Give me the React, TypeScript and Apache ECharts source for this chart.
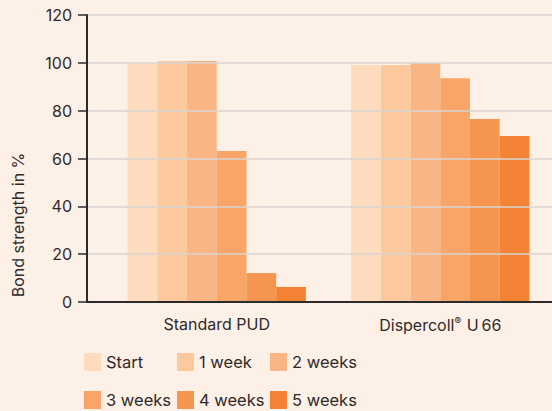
import React, { useEffect, useRef } from "react";
import * as echarts from "echarts";

const categories = ["Standard PUD", "Dispercoll® U 66"];
const seriesNames = ["Start", "1 week", "2 weeks", "3 weeks", "4 weeks", "5 weeks"];
const startValues = [100, 99.1];
const week1Values = [100.8, 99.1];
const week2Values = [100.8, 99.9];
const week3Values = [63.1, 93.6];
const week4Values = [12.1, 76.5];
const week5Values = [6.3, 69.4];
const yTicks = [0, 20, 40, 60, 80, 100, 120];
const colors = ["#fddbbe", "#fcc89e", "#fab585", "#f8a567", "#f5954f", "#f38234"];

const FONT = "Inter, 'Noto Sans', sans-serif";
const TEXT = "#2e2a2b";

export default function App() {
  const ref = useRef<HTMLDivElement>(null);
  useEffect(() => {
    if (!ref.current) return;
    const chart = echarts.init(ref.current, null, { renderer: "svg" });
    const values = [startValues, week1Values, week2Values, week3Values, week4Values, week5Values];
    const legendPos = [
      [84, 353], [177, 353], [270, 353],
      [84, 391], [177, 391], [270, 391],
    ];
    chart.setOption({
      animation: false,
      backgroundColor: "#fdf0e6",
      textStyle: { fontFamily: FONT },
      grid: [
        { left: 87, right: 0, top: 15, bottom: 109 },
        { left: 105, width: 450, top: 15, bottom: 109 },
      ],
      xAxis: [
        {
          gridIndex: 0,
          type: "category",
          data: [""],
          z: 10,
          axisLine: { show: true, lineStyle: { color: "#2b2b2b", width: 2 } },
          axisTick: { show: false },
          axisLabel: { show: false },
        },
        {
          gridIndex: 1,
          type: "category",
          data: categories,
          axisLine: { show: false },
          axisTick: { show: false },
          axisLabel: {
            color: TEXT,
            fontSize: 16,
            margin: 14,
            fontFamily: FONT,
            formatter: (v: string) => v.replace("®", "{r|®}").replace("U 66", "U\u200966"),
            rich: {
              r: { fontSize: 10, color: TEXT, fontFamily: FONT, padding: [0, 1, 7, 0] },
            },
          },
        },
      ],
      yAxis: [
        {
          gridIndex: 0,
          type: "value",
          min: yTicks[0],
          max: yTicks[yTicks.length - 1],
          interval: 20,
          z: 10,
          axisLine: { show: true, lineStyle: { color: "#2b2b2b", width: 2 } },
          axisTick: { show: true, length: 9, lineStyle: { color: "#2b2b2b", width: 1.5 } },
          axisLabel: { color: TEXT, fontSize: 16, margin: 15, fontFamily: FONT },
          splitLine: { show: true, lineStyle: { color: "#d8d5d2", width: 1.5 } },
        },
        {
          gridIndex: 1,
          type: "value",
          min: yTicks[0],
          max: yTicks[yTicks.length - 1],
          show: false,
          splitLine: { show: false },
        },
      ],
      legend: seriesNames.map((n, i) => ({
        data: [n],
        left: legendPos[i][0],
        top: legendPos[i][1],
        padding: 0,
        icon: "rect",
        itemWidth: 17,
        itemHeight: 18,
        textStyle: { color: TEXT, fontSize: 16.5, fontFamily: FONT },
      })),
      graphic: [
        {
          type: "text",
          x: 17.5,
          y: 225,
          rotation: Math.PI / 2,
          style: {
            text: "Bond strength in %",
            fill: TEXT,
            font: `16px ${FONT}`,
            align: "center",
            verticalAlign: "middle",
          },
        },
      ],
      series: seriesNames.map((n, i) => ({
        name: n,
        type: "bar",
        xAxisIndex: 1,
        yAxisIndex: 1,
        data: values[i],
        barWidth: 29.7,
        barGap: "0%",
        itemStyle: { color: colors[i] },
      })),
    });
    return () => chart.dispose();
  }, []);
  return <div ref={ref} style={{ width: 552, height: 411, position: "absolute", left: 0, top: 0 }} />;
}
